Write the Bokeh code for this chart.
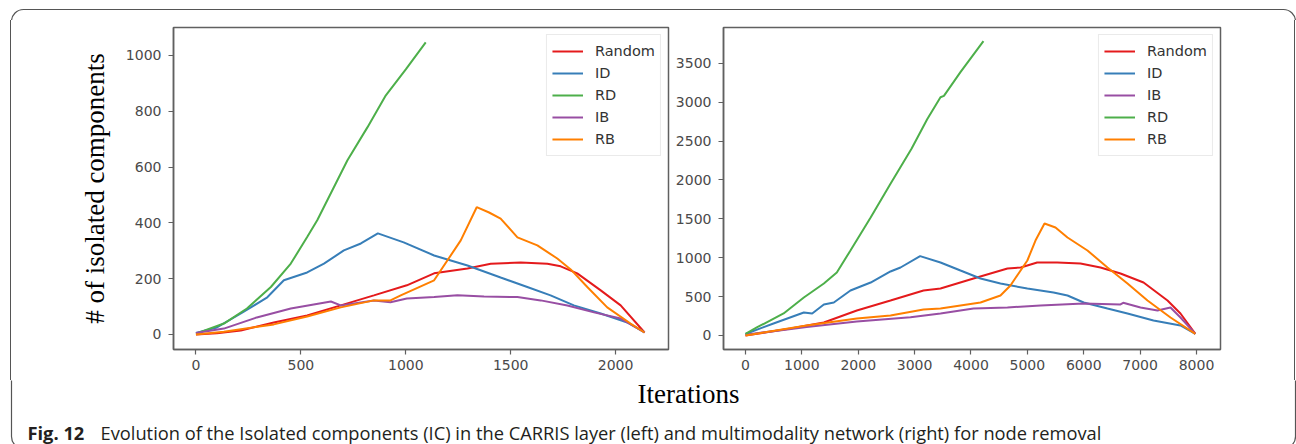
from bokeh.plotting import figure
from bokeh.layouts import column, row
from bokeh.models import Range1d, FixedTicker, Legend, LegendItem, BoxAnnotation, Div
from bokeh.embed import file_html
from bokeh.resources import INLINE
from bokeh.core.properties import value

# ---------------- data ----------------
# Left panel: CARRIS layer
L_random_x = [0, 100, 214, 371, 530, 690, 848, 1005, 1135, 1294, 1405, 1548, 1675, 1738, 1817, 1929, 2024, 2138]
L_random_y = [0, 4, 14, 43, 68, 104, 140, 176, 219, 236, 253, 258, 253, 244, 219, 158, 104, 7]
L_id_x = [0, 100, 214, 340, 419, 530, 610, 705, 786, 867, 990, 1135, 1294, 1452, 1579, 1690, 1801, 1929, 2056, 2138]
L_id_y = [5, 25, 75, 133, 194, 222, 254, 301, 326, 362, 330, 283, 247, 204, 170, 140, 104, 75, 43, 7]
L_rd_x = [0, 133, 243, 357, 452, 530, 578, 722, 817, 905, 1000, 1095]
L_rd_y = [3, 39, 93, 170, 254, 349, 409, 624, 742, 857, 950, 1047]
L_ib_x = [0, 133, 290, 452, 643, 690, 848, 927, 1005, 1135, 1246, 1373, 1532, 1643, 1770, 1897, 2024, 2138]
L_ib_y = [5, 21, 61, 93, 118, 104, 122, 115, 129, 134, 140, 136, 134, 122, 104, 79, 57, 7]
L_rb_x = [0, 133, 371, 530, 690, 848, 927, 976, 1135, 1262, 1338, 1397, 1452, 1532, 1627, 1722, 1786, 1865, 1960, 2071, 2138]
L_rb_y = [0, 10, 36, 64, 97, 122, 122, 140, 194, 337, 456, 437, 415, 348, 319, 272, 233, 170, 97, 39, 7]

# Right panel: multimodality network
R_random_x = [0, 798, 1390, 1975, 2572, 3158, 3459, 4045, 4647, 4883, 5174, 5529, 5942, 6297, 6652, 7061, 7486, 7716, 7980]
R_random_y = [0, 90, 167, 321, 450, 578, 604, 733, 861, 874, 938, 938, 925, 874, 797, 681, 450, 283, 20]
R_id_x = [0, 497, 1035, 1183, 1390, 1567, 1862, 2220, 2572, 2750, 3098, 3459, 3814, 4169, 4523, 5000, 5464, 5712, 5999, 6421, 6776, 7237, 7716, 7980]
R_id_y = [20, 154, 296, 283, 398, 424, 578, 681, 823, 874, 1020, 938, 835, 733, 668, 604, 553, 514, 424, 347, 283, 193, 129, 20]
R_ib_x = [0, 1085, 1975, 2927, 3459, 4045, 4647, 5233, 5999, 6652, 6700, 7007, 7308, 7539, 7716, 7980]
R_ib_y = [10, 110, 180, 235, 283, 347, 360, 385, 411, 400, 420, 360, 321, 360, 231, 20]
R_rd_x = [0, 201, 676, 1035, 1390, 1620, 1862, 2220, 2575, 2945, 3223, 3459, 3520, 3813, 4221]
R_rd_y = [22, 103, 283, 488, 668, 810, 1093, 1517, 1954, 2400, 2780, 3063, 3080, 3385, 3784]
R_rb_x = [0, 1085, 1975, 2572, 3158, 3459, 4169, 4523, 4700, 5000, 5144, 5304, 5499, 5712, 6066, 6421, 6776, 7131, 7539, 7980]
R_rb_y = [0, 128, 218, 257, 334, 347, 424, 514, 643, 964, 1221, 1440, 1388, 1260, 1093, 874, 668, 450, 231, 20]

L_xticks = [0, 500, 1000, 1500, 2000]
L_yticks = [0, 200, 400, 600, 800, 1000]
R_xticks = [0, 1000, 2000, 3000, 4000, 5000, 6000, 7000, 8000]
R_yticks = [0, 500, 1000, 1500, 2000, 2500, 3000, 3500]

Y_LABEL = "# of isolated components"
X_LABEL = "Iterations"
CAPTION_BOLD = "Fig. 12"
CAPTION = ("Evolution of the Isolated components (IC) in the CARRIS layer (left) "
           "and multimodality network (right) for node removal")

COLORS = {"Random": "#e41a1c", "ID": "#377eb8", "RD": "#4daf4a", "IB": "#984ea3", "RB": "#ff7f00"}

LEFT_SERIES = [("Random", L_random_x, L_random_y), ("ID", L_id_x, L_id_y), ("RD", L_rd_x, L_rd_y),
               ("IB", L_ib_x, L_ib_y), ("RB", L_rb_x, L_rb_y)]
RIGHT_SERIES = [("Random", R_random_x, R_random_y), ("ID", R_id_x, R_id_y), ("IB", R_ib_x, R_ib_y),
                ("RD", R_rd_x, R_rd_y), ("RB", R_rb_x, R_rb_y)]

FRAME_COLOR = "#606060"
TICK_TEXT = "#4a4a4a"
BOX_COLOR = "#555555"

TOP_H = 20      # top strip height
MID_H = 360     # plot row height
BOT_H = 64      # bottom strip height
LEFT_W = 20     # left strip width
RIGHT_W = 12    # right strip width


def panel(width, xr, yr, xticks, yticks, bl, br, series, ylabel=None):
    p = figure(width=width, height=MID_H, x_range=Range1d(*xr), y_range=Range1d(*yr),
               output_backend="svg", toolbar_location=None,
               min_border_left=bl, min_border_right=br, min_border_top=27 - TOP_H, min_border_bottom=31)
    p.grid.visible = False
    p.outline_line_color = FRAME_COLOR
    p.outline_line_width = 1.5
    p.background_fill_color = "white"
    p.border_fill_color = None
    for ax in (p.xaxis[0], p.yaxis[0]):
        ax.axis_line_color = FRAME_COLOR
        ax.axis_line_width = 1.5
        ax.major_tick_line_color = FRAME_COLOR
        ax.major_tick_line_width = 1.2
        ax.major_tick_out = 5
        ax.major_tick_in = 0
        ax.minor_tick_out = 0
        ax.minor_tick_in = 0
        ax.major_label_text_font = "DejaVu Sans"
        ax.major_label_text_font_size = "14px"
        ax.major_label_text_color = TICK_TEXT
    p.xaxis.ticker = FixedTicker(ticks=xticks)
    p.yaxis.ticker = FixedTicker(ticks=yticks)
    p.xaxis.major_label_standoff = 5
    p.yaxis.major_label_standoff = 7
    if ylabel:
        p.yaxis.axis_label = ylabel
        p.yaxis.axis_label_text_font = "Liberation Serif"
        p.yaxis.axis_label_text_font_style = "normal"
        p.yaxis.axis_label_text_font_size = "27px"
        p.yaxis.axis_label_text_color = "black"
        p.yaxis.axis_label_standoff = 13
    items = []
    for name, xs, ys in series:
        r = p.line(xs, ys, line_color=COLORS[name], line_width=2)
        items.append(LegendItem(label=name, renderers=[r]))
    leg = Legend(items=items, location="top_right")
    leg.margin = 7
    leg.padding = 5
    leg.spacing = 0
    leg.label_height = 22
    leg.glyph_height = 22
    leg.glyph_width = 31
    leg.label_standoff = 12
    leg.label_text_font = "DejaVu Sans"
    leg.label_text_font_size = "14.5px"
    leg.label_text_color = "#333333"
    leg.label_text_baseline = "middle"
    leg.border_line_color = "#d6d6d6"
    leg.border_line_width = 1
    leg.background_fill_alpha = 0.8
    p.add_layout(leg)
    return p


def strip(width, height):
    s = figure(width=width, height=height, x_range=Range1d(0, width), y_range=Range1d(height, 0),
               output_backend="svg", toolbar_location=None, min_border=0,
               x_axis_location=None, y_axis_location=None)
    s.grid.visible = False
    s.outline_line_color = None
    s.border_fill_color = None
    s.background_fill_color = None
    return s


def frame_box(fig, left, right, top, bottom):
    fig.add_layout(BoxAnnotation(left=left, right=right, top=top, bottom=bottom,
                                 fill_color=None, fill_alpha=0, line_color=BOX_COLOR,
                                 line_alpha=1.0, line_width=1.2, border_radius=12))


def side_edge(width, offset):
    html = ('<div style="margin:0 0 0 %dpx;padding:0;width:0;height:%dpx;'
            'border-left:1.2px solid %s;"></div>' % (offset, MID_H, BOX_COLOR))
    return Div(text=html, width=width, height=MID_H, margin=0)


pl = panel(672 - LEFT_W, (-107, 2252), (-54, 1100), L_xticks, L_yticks, 173 - LEFT_W, 4, LEFT_SERIES, ylabel=Y_LABEL)
pr = panel(624 - RIGHT_W, (-390, 8426), (-180, 3959), R_xticks, R_yticks, 51, 76 - RIGHT_W, RIGHT_SERIES)

# outer rounded frame pieces
top = strip(1296, TOP_H)
frame_box(top, 11, 1295, 9, 900)
lefts = side_edge(LEFT_W, 10)
rights = side_edge(RIGHT_W, 10)

pb = strip(1296, BOT_H)
frame_box(pb, 11, 1295, -900, 68)
pb.text(x=[688], y=[13], text=[X_LABEL], text_font=value("Liberation Serif"), text_font_size="27px",
        text_align="center", text_baseline="middle", text_color="black")
pb.text(x=[27], y=[52], text=[CAPTION_BOLD], text_font=value("Open Sans"), text_font_size="18.3px",
        text_font_style="bold", text_align="left", text_baseline="alphabetic", text_color="#231f20")
pb.text(x=[100], y=[52], text=[CAPTION], text_font=value("Open Sans"), text_font_size="18.3px",
        text_align="left", text_baseline="alphabetic", text_color="#231f20")

layout = column(top, row(lefts, pl, pr, rights, spacing=0), pb, spacing=0)
open("out.html", "w").write(file_html(layout, INLINE))
